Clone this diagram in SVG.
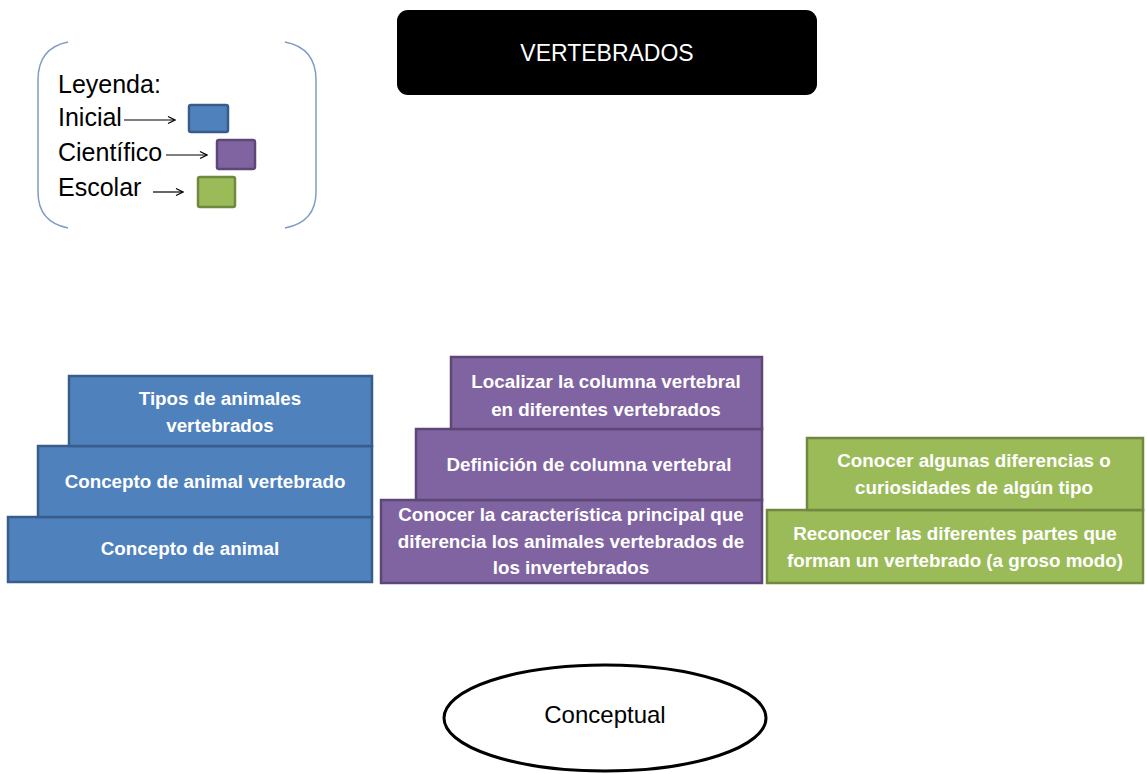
<svg xmlns="http://www.w3.org/2000/svg" width="1147" height="774" viewBox="0 0 1147 774">
<defs>
<marker id="open" markerWidth="10" markerHeight="10" refX="9" refY="5" orient="auto" markerUnits="userSpaceOnUse">
<path d="M2,1.5 L9,5 L2,8.5" fill="none" stroke="#000" stroke-width="1.2"/>
</marker>
</defs>
<style>
.lg{font-family:"Liberation Sans",Arial,sans-serif;font-size:25px;fill:#000}
.bx{font-family:"Liberation Sans",Arial,sans-serif;font-size:18.8px;font-weight:bold;fill:#fff;text-anchor:middle}
.blue{fill:#4f81bd;stroke:#385d8a;stroke-width:2.5}
.purple{fill:#8064a2;stroke:#5c4776;stroke-width:2.5}
.green{fill:#9bbb59;stroke:#71893f;stroke-width:2.5}
.arr{stroke:#000;stroke-width:1.2;fill:none;marker-end:url(#open)}
</style>
<rect width="1147" height="774" fill="#fff"/>

<g id="legend">
<path d="M68,42 Q38,48 38,80 L38,192 Q38,222 68,228" fill="none" stroke="#7f9cc4" stroke-width="1.5"/>
<path d="M285,42 Q316,48 316,80 L316,192 Q316,222 285,228" fill="none" stroke="#7f9cc4" stroke-width="1.5"/>
<text class="lg" x="58" y="93">Leyenda:</text>
<text class="lg" x="58" y="126">Inicial</text>
<text class="lg" x="58" y="161">Científico</text>
<text class="lg" x="58" y="196">Escolar</text>
</g>
<g id="connectors">
<line class="arr" x1="124" y1="120" x2="175" y2="120"/>
<line class="arr" x1="166" y1="155" x2="207" y2="155"/>
<line class="arr" x1="153" y1="192" x2="183" y2="192"/>
</g>
<g id="legend-swatches">
<rect class="blue" x="189" y="105" width="39" height="27" rx="2"/>
<rect class="purple" x="217" y="140" width="38" height="29" rx="2"/>
<rect class="green" x="198" y="177" width="37" height="30" rx="2"/>
</g>

<g id="title">
<rect x="397" y="10" width="420" height="85" rx="11" fill="#000"/>
<text x="607" y="61" font-family="'Liberation Sans',Arial,sans-serif" font-size="23" fill="#fff" text-anchor="middle">VERTEBRADOS</text>
</g>

<g id="inicial-1">
<rect class="blue" x="8" y="517" width="364" height="65"/>
<text class="bx" x="190" y="555">Concepto de animal</text>
</g>
<g id="inicial-2">
<rect class="blue" x="38" y="446" width="334" height="71"/>
<text class="bx" x="205" y="488">Concepto de animal vertebrado</text>
</g>
<g id="inicial-3">
<rect class="blue" x="69" y="376" width="303" height="70"/>
<text class="bx" x="220" y="405">Tipos de animales</text>
<text class="bx" x="220" y="432">vertebrados</text>
</g>

<g id="cientifico-1">
<rect class="purple" x="381" y="500" width="381" height="83"/>
<text class="bx" x="571" y="521">Conocer la característica principal que</text>
<text class="bx" x="571" y="548">diferencia los animales vertebrados de</text>
<text class="bx" x="571" y="574">los invertebrados</text>
</g>
<g id="cientifico-2">
<rect class="purple" x="416" y="429" width="346" height="71"/>
<text class="bx" x="589" y="471">Definición de columna vertebral</text>
</g>
<g id="cientifico-3">
<rect class="purple" x="451" y="357" width="311" height="72"/>
<text class="bx" x="606" y="388">Localizar la columna vertebral</text>
<text class="bx" x="606" y="416">en diferentes vertebrados</text>
</g>

<g id="escolar-1">
<rect class="green" x="767" y="510" width="376" height="73"/>
<text class="bx" x="955" y="540">Reconocer las diferentes partes que</text>
<text class="bx" x="955" y="567">forman un vertebrado (a groso modo)</text>
</g>
<g id="escolar-2">
<rect class="green" x="807" y="438" width="336" height="72"/>
<text class="bx" x="974" y="467">Conocer algunas diferencias o</text>
<text class="bx" x="974" y="494">curiosidades de algún tipo</text>
</g>

<g id="conceptual">
<ellipse cx="605" cy="718" rx="161" ry="53" fill="#fff" stroke="#000" stroke-width="3"/>
<text x="605" y="723" font-family="'Liberation Sans',Arial,sans-serif" font-size="24" fill="#000" text-anchor="middle">Conceptual</text>
</g>
</svg>
